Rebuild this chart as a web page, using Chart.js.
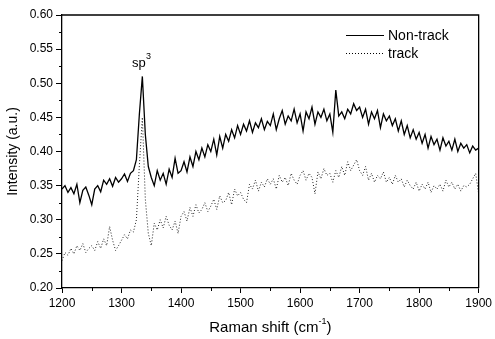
<!DOCTYPE html>
<html lang="en">
<head>
  <meta charset="UTF-8">
  <title>Raman spectra</title>
  <script src="https://cdn.jsdelivr.net/npm/chart.js"></script>
  <style>
    body { margin: 0; background: #fff; }
    #raman { display: block; }
  </style>
</head>
<body>
  <canvas id="raman" width="495" height="339"></canvas>

  <script>
    // Raman shift grid, 1200..1900 cm-1 every 5
    const shift = Array.from({ length: 141 }, (_, i) => 1200 + 5 * i);

    const nonTrack = [
      0.345, 0.350, 0.340, 0.347, 0.338, 0.352, 0.325, 0.343, 0.348, 0.336,
      0.322, 0.345, 0.350, 0.341, 0.358, 0.352, 0.360, 0.349, 0.362, 0.355,
      0.360, 0.367, 0.356, 0.368, 0.372, 0.388, 0.455, 0.510, 0.425, 0.378,
      0.362, 0.350, 0.372, 0.358, 0.368, 0.352, 0.374, 0.362, 0.390, 0.368,
      0.372, 0.385, 0.370, 0.392, 0.378, 0.400, 0.388, 0.405, 0.392, 0.410,
      0.400, 0.418, 0.395, 0.422, 0.405, 0.425, 0.415, 0.432, 0.420, 0.438,
      0.425, 0.440, 0.430, 0.445, 0.428, 0.442, 0.435, 0.448, 0.432, 0.444,
      0.438, 0.455, 0.432, 0.448, 0.460, 0.440, 0.452, 0.445, 0.462, 0.442,
      0.455, 0.430, 0.458, 0.448, 0.465, 0.440, 0.458, 0.450, 0.462, 0.445,
      0.455, 0.428, 0.490, 0.452, 0.458, 0.448, 0.462, 0.455, 0.470, 0.460,
      0.465, 0.450, 0.462, 0.440, 0.458, 0.448, 0.460, 0.435, 0.455, 0.445,
      0.452, 0.438, 0.448, 0.430, 0.445, 0.425, 0.438, 0.420, 0.432, 0.418,
      0.428, 0.412, 0.425, 0.405, 0.422, 0.410, 0.418, 0.402, 0.420, 0.408,
      0.415, 0.402, 0.418, 0.400, 0.412, 0.405, 0.410, 0.398, 0.408, 0.402,
      0.405
    ];

    const track = [
      0.240, 0.252, 0.248, 0.258, 0.250, 0.262, 0.255, 0.265, 0.252, 0.258,
      0.262, 0.255, 0.268, 0.258, 0.272, 0.262, 0.290, 0.270, 0.255, 0.262,
      0.270, 0.278, 0.272, 0.285, 0.282, 0.300, 0.380, 0.450, 0.330, 0.280,
      0.262, 0.295, 0.285, 0.300, 0.288, 0.305, 0.292, 0.285, 0.298, 0.280,
      0.305, 0.312, 0.298, 0.318, 0.305, 0.322, 0.310, 0.315, 0.325, 0.312,
      0.320, 0.330, 0.315, 0.335, 0.325, 0.328, 0.340, 0.322, 0.345, 0.335,
      0.340, 0.330, 0.325, 0.352, 0.345, 0.358, 0.342, 0.355, 0.348, 0.360,
      0.352, 0.360, 0.345, 0.365, 0.355, 0.362, 0.350, 0.368, 0.358, 0.352,
      0.365, 0.372, 0.358, 0.368, 0.362, 0.338, 0.370, 0.360, 0.375, 0.365,
      0.368, 0.355, 0.372, 0.362, 0.378, 0.365, 0.385, 0.372, 0.380, 0.388,
      0.372, 0.365, 0.378, 0.358, 0.368, 0.355, 0.365, 0.360, 0.370, 0.355,
      0.362, 0.352, 0.365, 0.355, 0.360, 0.348, 0.358, 0.350, 0.345, 0.355,
      0.342, 0.352, 0.345, 0.355, 0.340, 0.350, 0.345, 0.352, 0.342, 0.358,
      0.348, 0.355, 0.345, 0.352, 0.342, 0.350, 0.348, 0.352, 0.360, 0.368,
      0.338
    ];

    const xMinorTicks = [1250, 1350, 1450, 1550, 1650, 1750, 1850];
    const yMinorTicks = [0.225, 0.275, 0.325, 0.375, 0.425, 0.475, 0.525, 0.575];

    const FONT = '"Liberation Sans", Arial, sans-serif';

    const toPoints = ys => ys.map((y, i) => ({ x: shift[i], y: y }));

    // frame, minor ticks, legend, labels
    const extras = {
      id: 'extras',
      afterDraw(chart) {
        const { ctx, chartArea: a, scales: { x, y } } = chart;
        ctx.save();
        ctx.strokeStyle = '#000';
        ctx.fillStyle = '#000';

        // top + right frame
        ctx.lineWidth = 1.3;
        ctx.beginPath();
        ctx.moveTo(a.left, a.top);
        ctx.lineTo(a.right, a.top);
        ctx.lineTo(a.right, a.bottom);
        ctx.stroke();

        // minor ticks
        ctx.lineWidth = 1;
        ctx.beginPath();
        xMinorTicks.forEach(v => {
          const px = Math.round(x.getPixelForValue(v)) + 0.5;
          ctx.moveTo(px, a.bottom);
          ctx.lineTo(px, a.bottom + 3);
        });
        yMinorTicks.forEach(v => {
          const py = Math.round(y.getPixelForValue(v)) + 0.5;
          ctx.moveTo(a.left, py);
          ctx.lineTo(a.left - 3, py);
        });
        ctx.stroke();

        // legend
        ctx.lineWidth = 1.2;
        ctx.beginPath();
        ctx.moveTo(346, 35.5);
        ctx.lineTo(384, 35.5);
        ctx.stroke();
        ctx.setLineDash([1, 2]);
        ctx.lineWidth = 1;
        ctx.beginPath();
        ctx.moveTo(346, 53.5);
        ctx.lineTo(384, 53.5);
        ctx.stroke();
        ctx.setLineDash([]);
        ctx.font = '14px ' + FONT;
        ctx.textBaseline = 'middle';
        ctx.textAlign = 'left';
        ctx.fillText('Non-track', 388, 36);
        ctx.fillText('track', 388, 54);

        // sp3 label
        ctx.font = '13px ' + FONT;
        ctx.fillText('sp', 132, 63);
        ctx.font = '9px ' + FONT;
        ctx.fillText('3', 146, 57);

        // x title
        const t1 = 'Raman shift (cm';
        const t2 = ')';
        ctx.font = '9px ' + FONT;
        const wSup = ctx.measureText('-1').width;
        ctx.font = '15px ' + FONT;
        const w1 = ctx.measureText(t1).width;
        const w2 = ctx.measureText(t2).width;
        const sx = (a.left + a.right) / 2 - (w1 + wSup + w2) / 2;
        ctx.fillText(t1, sx, 328);
        ctx.font = '9px ' + FONT;
        ctx.fillText('-1', sx + w1, 322);
        ctx.font = '15px ' + FONT;
        ctx.fillText(t2, sx + w1 + wSup, 328);

        // y title
        ctx.translate(13, (a.top + a.bottom) / 2);
        ctx.rotate(-Math.PI / 2);
        ctx.textAlign = 'center';
        ctx.font = '14px ' + FONT;
        ctx.fillText('Intensity (a.u.)', 0, 0);

        ctx.restore();
      }
    };

    const tickFont = { family: FONT, size: 12 };

    new Chart(document.getElementById('raman'), {
      type: 'line',
      data: {
        datasets: [
          {
            label: 'Non-track',
            data: toPoints(nonTrack),
            borderColor: '#000',
            borderWidth: 1.3,
            pointRadius: 0,
            tension: 0
          },
          {
            label: 'track',
            data: toPoints(track),
            borderColor: '#222',
            borderWidth: 1,
            borderDash: [1, 2],
            pointRadius: 0,
            tension: 0
          }
        ]
      },
      options: {
        responsive: false,
        animation: false,
        layout: { padding: { top: 15, right: 12, left: 0, bottom: 0 } },
        plugins: {
          legend: { display: false },
          tooltip: { enabled: false }
        },
        scales: {
          x: {
            type: 'linear',
            min: 1200,
            max: 1900,
            ticks: {
              stepSize: 100,
              color: '#000',
              font: tickFont,
              padding: 3,
              maxRotation: 0,
              callback: v => String(v)
            },
            grid: { drawOnChartArea: false, tickLength: 5, color: '#000' },
            border: { color: '#000', width: 1.3 },
            afterFit: s => { s.height = 51; }
          },
          y: {
            min: 0.2,
            max: 0.6,
            ticks: {
              stepSize: 0.05,
              color: '#000',
              font: tickFont,
              padding: 3,
              callback: v => v.toFixed(2)
            },
            grid: { drawOnChartArea: false, tickLength: 6, color: '#000' },
            border: { color: '#000', width: 1.3 },
            afterFit: s => { s.width = 62; }
          }
        }
      },
      plugins: [extras]
    });
  </script>
</body>
</html>
